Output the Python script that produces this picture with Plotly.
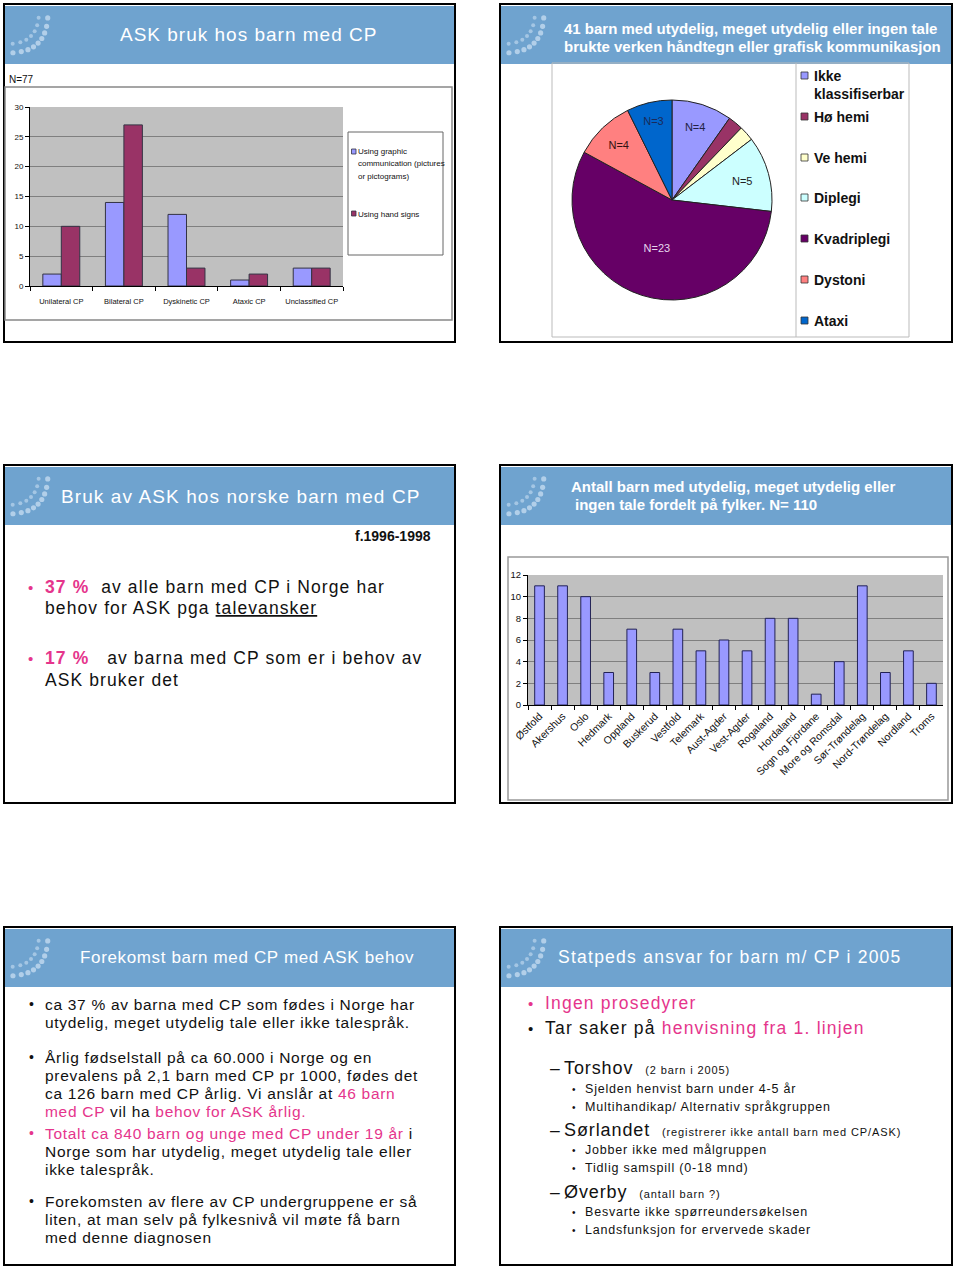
import math
import plotly.graph_objects as go

W, H = 960, 1267


def px(x):
    return x / W


def py(y):
    return 1 - y / H


# ---------------- DATA ----------------
cp_types = ["Unilateral CP", "Bilateral CP", "Dyskinetic CP", "Ataxic CP", "Unclassified CP"]
graphic_comm = [2, 14, 12, 1, 3]
hand_signs = [10, 27, 3, 2, 3]
bar_series_names = ["Using graphic communication (pictures or pictograms)", "Using hand signs"]
bar_series_colors = ["#9999ff", "#993366"]

pie_labels = ["Ikke klassifiserbar", "Hø hemi", "Ve hemi", "Diplegi", "Kvadriplegi", "Dystoni", "Ataxi"]
pie_values = [4, 1, 1, 5, 23, 4, 3]
pie_colors = ["#9999ff", "#993366", "#ffffcc", "#ccffff", "#660066", "#ff8080", "#0066cc"]
pie_text = ["N=4", "", "", "N=5", "N=23", "N=4", "N=3"]
pie_text_colors = ["#222244", "#222222", "#222222", "#222222", "#e6d6ee", "#331111", "#1a2a5a"]

fylker = ["Østfold", "Akershus", "Oslo", "Hedmark", "Oppland", "Buskerud", "Vestfold",
          "Telemark", "Aust-Agder", "Vest-Agder", "Rogaland", "Hordaland",
          "Sogn og Fjordane", "More og Romsdal", "Sør-Trøndelag", "Nord-Trøndelag",
          "Nordland", "Troms"]
fylke_counts = [11, 11, 10, 3, 7, 3, 7, 5, 6, 5, 8, 8, 1, 4, 11, 3, 5, 2]

HEADER = "#6fa3cf"
PINK = "#e5358c"
TXT = "#111111"
FONT = "Liberation Sans, Arial, sans-serif"
NARROW = "Liberation Sans Narrow, Liberation Sans, Arial, sans-serif"

fig = go.Figure()

# ---------- Chart 1: grouped bars ----------
for name, vals, col in zip(bar_series_names, [graphic_comm, hand_signs], bar_series_colors):
    fig.add_trace(go.Bar(
        x=cp_types, y=vals, name=name, xaxis="x", yaxis="y",
        marker=dict(color=col, line=dict(color="#333344", width=1)),
        showlegend=False, hoverinfo="x+y+name",
    ))

# ---------- Chart 2: pie ----------
fig.add_trace(go.Pie(
    labels=pie_labels, values=pie_values, text=pie_text, textinfo="text",
    textposition="inside", insidetextorientation="horizontal",
    textfont=dict(size=11, color=pie_text_colors, family=FONT),
    marker=dict(colors=pie_colors, line=dict(color="#222222", width=1)),
    sort=False, direction="clockwise", rotation=0,
    domain=dict(x=[px(572), px(772)], y=[py(301), py(99)]),
    showlegend=False,
))

# ---------- Chart 4: bars by county ----------
fig.add_trace(go.Bar(
    x=fylker, y=fylke_counts, xaxis="x2", yaxis="y2", width=0.42,
    marker=dict(color="#9999ff", line=dict(color="#222255", width=1)),
    showlegend=False,
))

shapes = []
annotations = []


def rect(x0, y0, x1, y1, line="#000", lw=1, fill="rgba(0,0,0,0)", layer="above"):
    shapes.append(dict(type="rect", xref="paper", yref="paper",
                       x0=px(x0), x1=px(x1), y0=py(y1), y1=py(y0),
                       line=dict(color=line, width=lw), fillcolor=fill, layer=layer))


def line(x0, y0, x1, y1, col="#999", lw=1):
    shapes.append(dict(type="line", xref="paper", yref="paper",
                       x0=px(x0), x1=px(x1), y0=py(y0), y1=py(y1),
                       line=dict(color=col, width=lw)))


def txt(x, y, s, size=15, color=TXT, anchor="left", family=FONT, bold=False, ls=0):
    if bold:
        s = "<b>" + s + "</b>"
    if ls:
        s = "<span style='letter-spacing:%.2fpx'>%s</span>" % (ls, s)
    annotations.append(dict(xref="paper", yref="paper", x=px(x), y=py(y), text=s,
                            showarrow=False, xanchor=anchor, yanchor="middle",
                            font=dict(size=size, color=color, family=family),
                            borderpad=0))


def pink(s):
    return "<span style='color:%s'>%s</span>" % (PINK, s)


def small(s, size):
    return "<span style='font-size:%dpx'>%s</span>" % (size, s)


# ---------- Slides: borders, headers, logo dots ----------
slides = [(4, 4, 455, 342), (500, 4, 952, 342), (4, 465, 455, 803),
          (500, 465, 952, 803), (4, 927, 455, 1265), (500, 927, 952, 1265)]
for (x0, y0, x1, y1) in slides:
    rect(x0 + 1, y0 + 2, x1 - 1, y0 + 60, line=HEADER, lw=0, fill=HEADER, layer="below")
    # decorative dotted arc logo
    cx, cy = x0 - 2, y0 + 3
    for R, r, n, op in [(46, 2.6, 11, 0.75), (37, 2.0, 9, 0.6)]:
        for i in range(n):
            t = math.radians(-2 + 94 * i / (n - 1))
            ct, st = max(math.cos(t), 0), max(math.sin(t), 0)
            dx = cx + R * ct ** 0.7
            dy = cy + R * st ** 0.7
            if dy < y0 + 4 or dy > y0 + 58 or dx < x0 + 3:
                continue
            shapes.append(dict(type="circle", xref="paper", yref="paper",
                               x0=px(dx - r), x1=px(dx + r), y0=py(dy + r), y1=py(dy - r),
                               line=dict(width=0), fillcolor="rgba(200,222,242,%.2f)" % op,
                               layer="below"))
    rect(x0, y0, x1, y1, line="#000000", lw=2)

# ---------- Slide 1 ----------
txt(248, 34, "ASK bruk hos barn med CP", size=19, color="white", anchor="center", ls=1.0)
txt(8, 79, "N=77", size=10)
rect(5, 87, 452, 320, line="#888888", lw=1.5)
rect(348, 132, 443, 255, line="#666666", lw=1, fill="white")
leg1_rows = [(152, ["Using graphic", "communication (pictures", "or pictograms)"]),
             (214, ["Using hand signs"])]
for (yy, lines_), col in zip(leg1_rows, bar_series_colors):
    rect(351.5, yy - 3, 356, yy + 2, line="#333344", lw=0.8, fill=col)
    for k, s in enumerate(lines_):
        txt(357, yy + 12 * k, s, size=8, family=NARROW)

# ---------- Slide 2 ----------
txt(563, 29, "41 barn med utydelig, meget utydelig eller ingen tale", size=15, color="white", bold=True)
txt(563, 47, "brukte verken håndtegn eller grafisk kommunikasjon", size=15, color="white", bold=True)
rect(552, 63, 909, 337, line="#bbbbbb", lw=1)
line(796, 63, 796, 337, col="#bbbbbb")
leg2_y = [76, 117, 158, 198, 239, 280, 321]
for lab, col, yy in zip(pie_labels, pie_colors, leg2_y):
    rect(801, yy - 4, 808, yy + 3, line="#333333", lw=0.8, fill=col)
    parts = lab.split(" ") if lab == "Ikke klassifiserbar" else [lab]
    for k, s in enumerate(parts):
        txt(813, yy + 18 * k, s, size=14, bold=True)

# ---------- Slide 3 ----------
txt(60, 496, "Bruk av ASK hos norske barn med CP", size=19, color="white", ls=1.1)
txt(432, 536, "f.1996-1998", size=14, anchor="right", bold=True)
txt(27, 587, "•", size=15, color=PINK)
txt(44, 587, pink("<b>37 %</b>") + "  av alle barn med CP i Norge har", size=17.5, ls=1.1)
txt(44, 608, "behov for ASK pga <u>talevansker</u>", size=17.5, ls=1.1)
txt(27, 658, "•", size=15, color=PINK)
txt(44, 658, pink("<b>17 %</b>") + "   av barna med CP som er i behov av", size=17.5, ls=1.1)
txt(44, 680, "ASK bruker det", size=17.5, ls=1.1)

# ---------- Slide 4 ----------
txt(570, 486, "Antall barn med utydelig, meget utydelig eller", size=15, color="white", bold=True)
txt(574, 504, "ingen tale fordelt på fylker. N= 110", size=15, color="white", bold=True)
rect(508, 557, 948, 800, line="#999999", lw=1.5)

# ---------- Slide 5 ----------
txt(247, 957, "Forekomst barn med CP med ASK behov", size=17, color="white", anchor="center", ls=0.65)
s5 = [
    (1004, "•", "ca 37 % av barna med CP som fødes i Norge har"),
    (1022, "", "utydelig, meget utydelig tale eller ikke talespråk."),
    (1057, "•", "Årlig fødselstall på ca 60.000 i Norge og en"),
    (1075, "", "prevalens på 2,1 barn med CP pr 1000, fødes det"),
    (1093, "", "ca 126 barn med CP årlig. Vi anslår at " + pink("46 barn")),
    (1111, "", pink("med CP") + " vil ha " + pink("behov for ASK årlig.")),
    (1133, "p", pink("Totalt ca 840 barn og unge med CP under 19 år") + " i"),
    (1151, "", "Norge som har utydelig, meget utydelig tale eller"),
    (1169, "", "ikke talespråk."),
    (1201, "•", "Forekomsten av flere av CP undergruppene er så"),
    (1219, "", "liten, at man selv på fylkesnivå vil møte få barn"),
    (1237, "", "med denne diagnosen"),
]
for yy, b, s in s5:
    if b:
        txt(28, yy, "•", size=14, color=PINK if b == "p" else TXT)
    txt(44, yy, s, size=15.5, ls=0.7)

# ---------- Slide 6 ----------
txt(557, 957, "Statpeds ansvar for barn m/ CP i 2005", size=17.5, color="white", ls=1.25)
txt(527, 1003, "•", size=15, color=PINK)
txt(544, 1003, pink("Ingen prosedyrer"), size=17.5, ls=1.2)
txt(527, 1028, "•", size=15)
txt(544, 1028, "Tar saker på " + pink("henvisning fra 1. linjen"), size=17.5, ls=1.2)
s6 = [
    (1068, "-", "Torshov  " + small("(2 barn i 2005)", 11)),
    (1089, "•", "Sjelden henvist barn under 4-5 år"),
    (1107, "•", "Multihandikap/ Alternativ språkgruppen"),
    (1130, "-", "Sørlandet  " + small("(registrerer ikke antall barn med CP/ASK)", 11)),
    (1150, "•", "Jobber ikke med målgruppen"),
    (1168, "•", "Tidlig samspill (0-18 mnd)"),
    (1192, "-", "Øverby  " + small("(antall barn ?)", 11)),
    (1212, "•", "Besvarte ikke spørreundersøkelsen"),
    (1230, "•", "Landsfunksjon for ervervede skader"),
]
for yy, b, s in s6:
    if b == "-":
        txt(549, yy, "–", size=17.5)
        txt(563, yy, s, size=18, ls=0.9)
    else:
        txt(571, yy, "•", size=10)
        txt(584, yy, s, size=12.5, ls=0.8)

axis_common = dict(showline=True, linecolor="#000000", linewidth=1, ticks="outside",
                   ticklen=4, tickcolor="#000000", zeroline=False, automargin=False)

fig.update_layout(
    width=W, height=H, autosize=False, margin=dict(l=0, r=0, t=0, b=0, pad=0, autoexpand=False),
    paper_bgcolor="white", plot_bgcolor="#c0c0c0",
    showlegend=False, barmode="group",
    bargap=0.41, bargroupgap=0,
    font=dict(family=FONT, color=TXT),
    xaxis=dict(domain=[px(30), px(343)], anchor="y", tickson="boundaries", tickangle=0,
               ticklabelstandoff=8,
               tickfont=dict(size=7.5, family=NARROW), showgrid=False, **axis_common),
    yaxis=dict(domain=[py(286), py(107)], anchor="x", range=[0, 30], dtick=5,
               showgrid=True, gridcolor="#7f7f7f", gridwidth=1,
               tickfont=dict(size=8, family=NARROW), **axis_common),
    xaxis2=dict(domain=[px(528), px(943)], anchor="y2", tickangle=-45, tickson="boundaries",
                tickfont=dict(size=10.5, family=FONT), showgrid=False, **axis_common),
    yaxis2=dict(domain=[py(705), py(575)], anchor="x2", range=[0, 12], dtick=2,
                showgrid=True, gridcolor="#7f7f7f", gridwidth=1,
                tickfont=dict(size=9.5, family=FONT), **axis_common),
    shapes=shapes, annotations=annotations,
)

fig.write_html(
    "out.html",
    config={"responsive": False, "displayModeBar": False},
    post_script="document.body.style.margin='0px';document.body.style.padding='0px';"
                "document.documentElement.style.overflow='hidden';",
)
